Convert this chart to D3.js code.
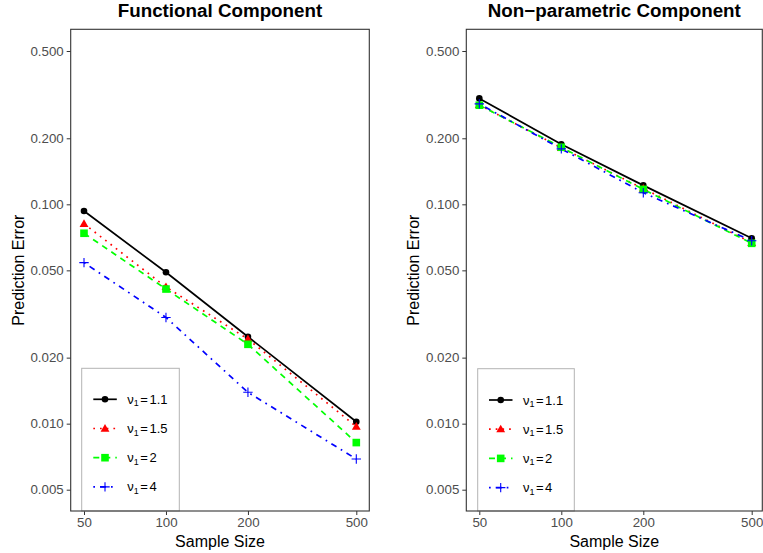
<!DOCTYPE html>
<html>
<head>
<meta charset="utf-8">
<script src="https://cdn.jsdelivr.net/npm/d3@7"></script>
<style>
  body { margin: 0; background: #fff; }
  svg { display: block; font-family: "Liberation Sans", Arial, sans-serif; }
</style>
</head>
<body>
<div id="chart"></div>
<script>
// data
var sampleSizes = [50, 100, 200, 500];
var nuLabels = ["1.1", "1.5", "2", "4"];
var yTicks = [0.005, 0.010, 0.020, 0.050, 0.100, 0.200, 0.500];

var funcErr11 = [0.0932, 0.0490, 0.0249, 0.0102];
var funcErr15 = [0.0815, 0.0420, 0.0243, 0.0097];
var funcErr2  = [0.0738, 0.0411, 0.0230, 0.0082];
var funcErr4  = [0.0542, 0.0305, 0.0139, 0.0069];

var nonpErr11 = [0.304, 0.188, 0.122, 0.0700];
var nonpErr15 = [0.284, 0.181, 0.118, 0.0668];
var nonpErr2  = [0.283, 0.182, 0.117, 0.0664];
var nonpErr4  = [0.287, 0.179, 0.113, 0.0682];

var styles = [
  {color: "#000000", dash: null,            shape: "circle"},
  {color: "#ff0000", dash: "1.7,5",         shape: "triangle"},
  {color: "#00ff00", dash: "6,5",           shape: "square"},
  {color: "#0000ff", dash: "1.7,5,6,5",     shape: "plus"}
];

var svg = d3.select("#chart")
  .append("svg")
    .attr("width", 763)
    .attr("height", 553);

function drawShape(g, shape, color) {
  if (shape == "circle") {
    g.append("circle").attr("r", 3.3).attr("fill", color);
  } else if (shape == "triangle") {
    g.append("path").attr("d", d3.symbol().type(d3.symbolTriangle).size(34)()).attr("fill", color)
      .attr("transform", "translate(0,0.6)");
  } else if (shape == "square") {
    g.append("rect").attr("x", -3.8).attr("y", -3.8).attr("width", 7.6).attr("height", 7.6).attr("fill", color);
  } else {
    g.append("path").attr("d", "M-4.7,0H4.7M0,-4.7V4.7").attr("stroke", color)
      .attr("stroke-width", 1.1).attr("fill", "none");
  }
}

function panel(opts) {
  var series = opts.series;
  var x = d3.scaleLog().domain([50, 500]).range(opts.xRange);
  var y = d3.scaleLog().domain([0.5, 0.005]).range([51, 489.7]);
  var box = opts.box;

  var g = svg.append("g");

  // title
  g.append("text")
    .attr("x", (box.left + box.right) / 2)
    .attr("y", 17)
    .attr("text-anchor", "middle")
    .style("font-weight", "bold")
    .style("font-size", "18.8px")
    .text(opts.title);

  // axes
  var yAxis = g.append("g")
    .attr("transform", "translate(" + box.left + ",0)")
    .call(d3.axisLeft(y).tickValues(yTicks).tickFormat(d3.format(".3f")).tickSize(4).tickPadding(3));
  var xAxis = g.append("g")
    .attr("transform", "translate(0," + box.bottom + ")")
    .call(d3.axisBottom(x).tickValues(sampleSizes).tickFormat(d3.format("d")).tickSize(4).tickPadding(3));
  [yAxis, xAxis].forEach(function(a) {
    a.attr("font-family", null).attr("font-size", null);
    a.select(".domain").remove();
    a.selectAll(".tick line").attr("stroke", "#333333").attr("stroke-width", 1);
    a.selectAll(".tick text").attr("fill", "#4d4d4d").style("font-size", "13.3px");
  });
  xAxis.selectAll(".tick text").attr("dy", "0.66em");

  g.append("text")
    .attr("x", (box.left + box.right) / 2)
    .attr("y", 546.5)
    .attr("text-anchor", "middle")
    .style("font-size", "16px")
    .text("Sample Size");
  g.append("text")
    .attr("transform", "translate(" + opts.yTitleX + "," + ((box.top + box.bottom) / 2) + ") rotate(-90)")
    .attr("text-anchor", "middle")
    .style("font-size", "16px")
    .text("Prediction Error");

  // lines + points
  series.forEach(function(vals, i) {
    var st = styles[i];
    var pts = vals.map(function(v, j) { return [sampleSizes[j], v]; });
    g.append("path")
      .datum(pts)
      .attr("fill", "none")
      .attr("stroke", st.color)
      .attr("stroke-width", 1.7)
      .attr("stroke-dasharray", st.dash)
      .attr("stroke-linecap", "butt")
      .attr("d", d3.line().x(function(d) { return x(d[0]); }).y(function(d) { return y(d[1]); }));
  });
  series.forEach(function(vals, i) {
    var st = styles[i];
    vals.forEach(function(v, j) {
      var p = g.append("g").attr("transform", "translate(" + x(sampleSizes[j]) + "," + y(v) + ")");
      drawShape(p, st.shape, st.color);
    });
  });

  // legend
  var lg = opts.legend;
  g.append("rect")
    .attr("x", lg.left).attr("y", lg.top)
    .attr("width", lg.right - lg.left).attr("height", box.bottom - lg.top)
    .attr("fill", "#fff").attr("stroke", "#b3b3b3").attr("stroke-width", 1);
  nuLabels.forEach(function(lab, i) {
    var st = styles[i];
    var ly = lg.firstY + i * 29.2;
    g.append("line")
      .attr("x1", lg.keyX).attr("x2", lg.keyX + 23.5)
      .attr("y1", ly).attr("y2", ly)
      .attr("stroke", st.color).attr("stroke-width", 1.7)
      .attr("stroke-dasharray", st.dash);
    var p = g.append("g").attr("transform", "translate(" + (lg.keyX + 11.7) + "," + ly + ")");
    drawShape(p, st.shape, st.color);
    var t = g.append("text")
      .attr("x", lg.keyX + 34)
      .attr("y", ly + 4.5)
      .style("font-size", "13px");
    t.append("tspan").text("\u03bd");
    t.append("tspan").attr("dy", 2.5).style("font-size", "9px").text("1");
    t.append("tspan").attr("dy", -2.5).attr("dx", 1.5).text("=");
    t.append("tspan").attr("dx", 1.5).text(lab);
  });

  // panel border
  g.append("rect")
    .attr("x", box.left).attr("y", box.top)
    .attr("width", box.right - box.left).attr("height", box.bottom - box.top)
    .attr("fill", "none").attr("stroke", "#333333").attr("stroke-width", 1.1);
}

panel({
  title: "Functional Component",
  series: [funcErr11, funcErr15, funcErr2, funcErr4],
  xRange: [84, 356.3],
  box: {left: 70.7, right: 369.3, top: 29.3, bottom: 511},
  yTitleX: 23.5,
  legend: {left: 81.7, right: 179.3, top: 368.3, firstY: 399.3, keyX: 93.3}
});

panel({
  title: "Non\u2212parametric Component",
  series: [nonpErr11, nonpErr15, nonpErr2, nonpErr4],
  xRange: [479.3, 751.7],
  box: {left: 466.3, right: 762.3, top: 29.3, bottom: 511},
  yTitleX: 418.5,
  legend: {left: 477.7, right: 574.3, top: 368.7, firstY: 400, keyX: 489}
});
</script>
</body>
</html>
